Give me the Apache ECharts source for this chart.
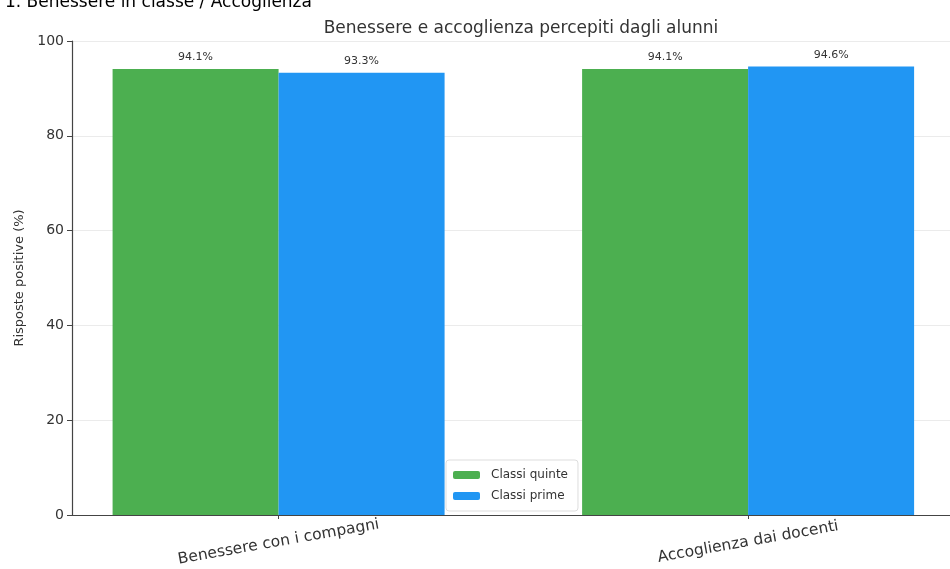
<!DOCTYPE html>
<html><head><meta charset="utf-8">
<script src="https://cdn.jsdelivr.net/npm/echarts@6/dist/echarts.min.js"></script>
<style>html,body{margin:0;padding:0;background:#fff}#c{width:950px;height:569px}</style>
</head><body><div id="c"></div>
<script>
const categories = ["Benessere con i compagni", "Accoglienza dai docenti"];
const quinte = [94.1, 94.1];
const prime = [93.3, 94.6];
const seriesNames = ["Classi quinte", "Classi prime"];
const yTicks = [0, 20, 40, 60, 80, 100];

const font = "DejaVu Sans";
const chart = echarts.init(document.getElementById('c'));
const toPts = arr => arr.map((v, i) => [i, v]);
const lbl = {show: true, position: 'top', distance: 6, fontFamily: font, fontSize: 11, color: '#333', formatter: p => p.value[1].toFixed(1) + '%'};
chart.setOption({
  animation: false,
  title: [
    {text: "1. Benessere in classe / Accoglienza", left: 0, top: -11, textStyle: {fontFamily: font, fontSize: 17, fontWeight: 'normal', color: '#000'}},
    {text: "Benessere e accoglienza percepiti dagli alunni", left: 516, textAlign: 'center', top: 15, textStyle: {fontFamily: font, fontSize: 17, fontWeight: 'normal', color: '#333'}}
  ],
  legend: {
    orient: 'vertical', left: 446, top: 460, itemWidth: 27, itemHeight: 8, itemGap: 9,
    padding: [9, 10, 9, 7], borderColor: '#ddd', borderWidth: 1, borderRadius: 3, backgroundColor: 'rgba(255,255,255,0.9)',
    textStyle: {fontFamily: font, fontSize: 12, color: '#333', padding: [0, 0, 0, 6]},
    data: seriesNames
  },
  grid: {left: 72, top: 41, width: 888, bottom: 54},
  xAxis: {
    type: 'value', min: -0.44, max: 1.43,
    axisLine: {show: true, lineStyle: {color: '#444', width: 1.2}},
    axisTick: {show: true, customValues: [0, 1], length: 4, lineStyle: {color: '#444'}},
    splitLine: {show: false},
    axisLabel: {customValues: [0, 1], rotate: 10, align: 'center', verticalAlign: 'middle',
      fontFamily: font, fontSize: 15.5, color: '#333', margin: 27,
      formatter: v => categories[Math.round(v)] || ''}
  },
  yAxis: {
    type: 'value', min: 0, max: 100, interval: 20,
    name: 'Risposte positive (%)', nameLocation: 'middle', nameGap: 37, nameRotate: 90,
    nameTextStyle: {fontFamily: font, fontSize: 13, color: '#333'},
    axisLine: {show: true, onZero: false, lineStyle: {color: '#444', width: 1.2}},
    axisTick: {show: true, length: 5, lineStyle: {color: '#444'}},
    axisLabel: {fontFamily: font, fontSize: 14, color: '#333', margin: 8},
    splitLine: {show: true, lineStyle: {color: '#ebebeb', width: 1}}
  },
  series: [
    {name: seriesNames[0], type: 'bar', data: toPts(quinte), barWidth: 166, barGap: '0%', itemStyle: {color: '#4CAF50'}, label: lbl},
    {name: seriesNames[1], type: 'bar', data: toPts(prime), barWidth: 166, barGap: '0%', itemStyle: {color: '#2196F3'}, label: lbl}
  ]
});
</script></body></html>
